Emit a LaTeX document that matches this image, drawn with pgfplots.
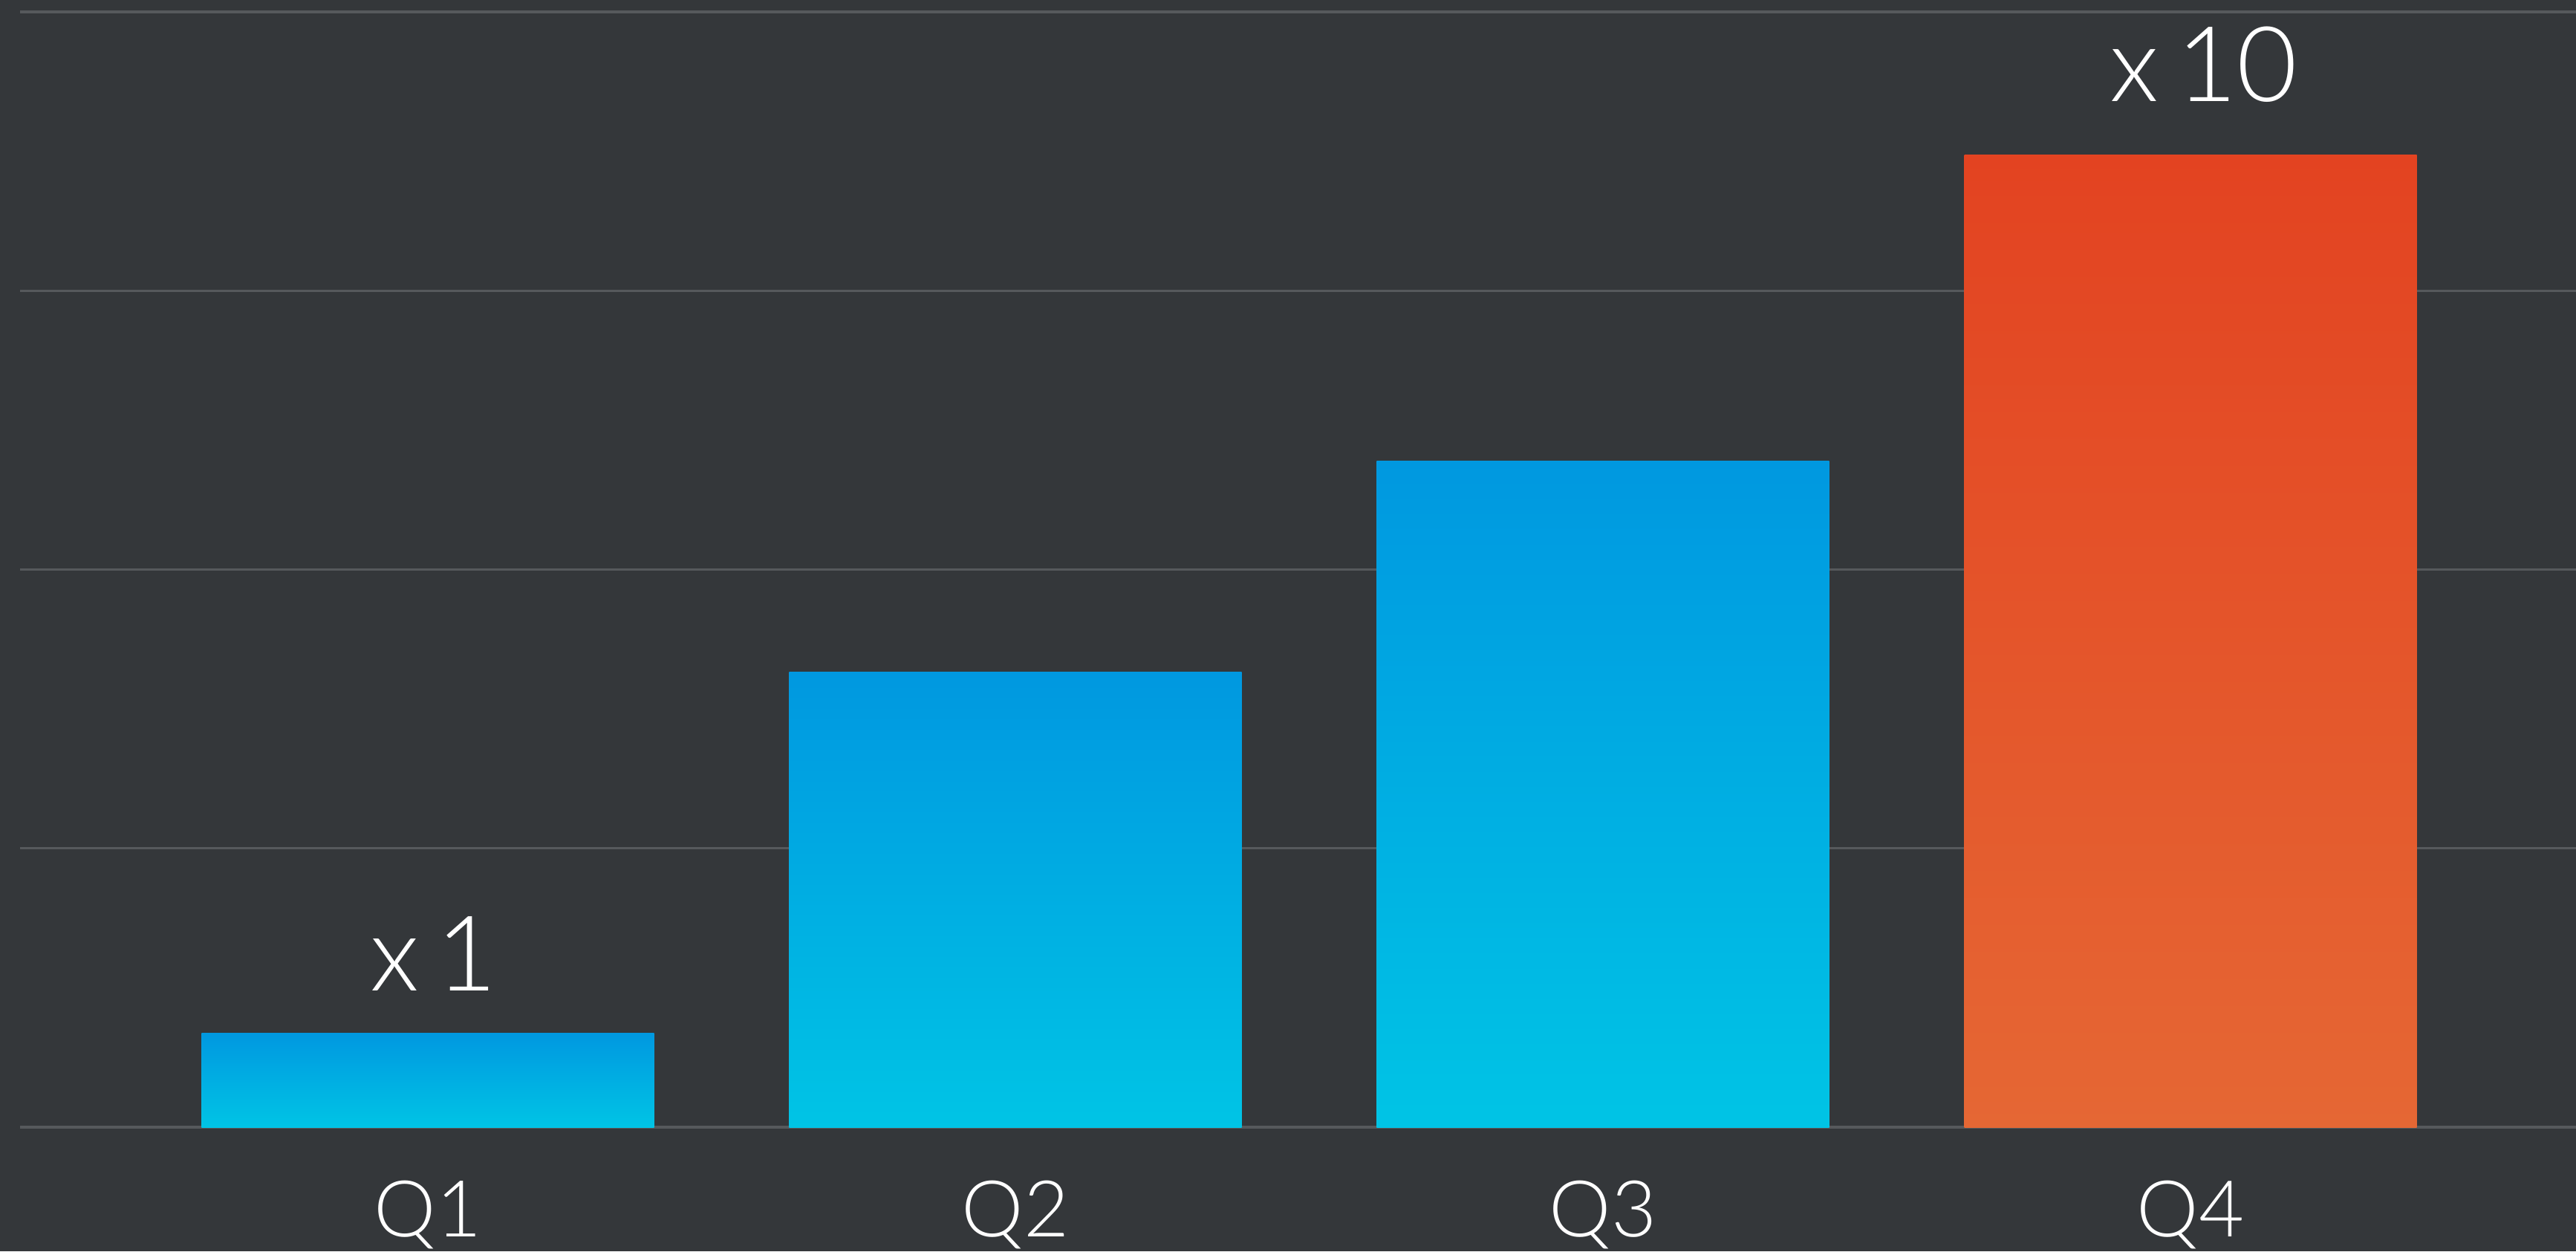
\documentclass[border=0pt]{standalone}
\usepackage{pgfplots}
\pgfplotsset{compat=1.18}
\usepackage{fontspec}
\setmainfont{Lato Light}

\definecolor{bg}{HTML}{34373A}
\definecolor{gridc}{HTML}{56595C}
\definecolor{blueTop}{HTML}{0098E0}
\definecolor{blueBot}{HTML}{00C4E5}
\definecolor{redTop}{HTML}{E34321}
\definecolor{redBot}{HTML}{E56734}

\begin{document}
\begin{tikzpicture}
\fill[bg] (0,0) rectangle (17.34cm,8.42cm);
\begin{axis}[
    at={(0.135cm,0.835cm)}, anchor=south west,
    scale only axis,
    width=17.205cm, height=7.505cm,
    xmin=-0.694, xmax=3.656,
    ymin=0, ymax=4,
    ytick={0,1,2,3,4}, yticklabels={},
    ymajorgrids,
    major grid style={line width=0.45pt, gridc},
    axis line style={draw=none},
    tick style={draw=none},
    xtick={0,1,2,3},
    xticklabels={Q1,Q2,Q3,Q4},
    xticklabel style={anchor=base, yshift=-0.735cm,
        font=\fontsize{15}{18}\selectfont, text=white},
    bar width=0.77,
    every node near coord/.append style={anchor=base,
        font=\fontsize{20}{24}\selectfont, text=white},
    clip=false
]
% one plot per bar so that each bar gets its own gradient
\addplot[ybar, draw=none, top color=blueTop, bottom color=blueBot,
    point meta=explicit symbolic, nodes near coords,
    nodes near coords style={yshift=0.285cm, xshift=0.04cm}]
    coordinates {(0,0.338) [x\,1]};
\addplot[ybar, draw=none, top color=blueTop, bottom color=blueBot]
    coordinates {(1,1.631)};
\addplot[ybar, draw=none, top color=blueTop, bottom color=blueBot]
    coordinates {(2,2.390)};
\addplot[ybar, draw=none, top color=redTop, bottom color=redBot,
    point meta=explicit symbolic, nodes near coords,
    nodes near coords style={yshift=0.36cm, xshift=0.09cm}]
    coordinates {(3,3.486) [x\,10]};
\end{axis}
\pgfresetboundingbox
\useasboundingbox (0,0) rectangle (17.34cm,8.42cm);
\end{tikzpicture}
\end{document}
